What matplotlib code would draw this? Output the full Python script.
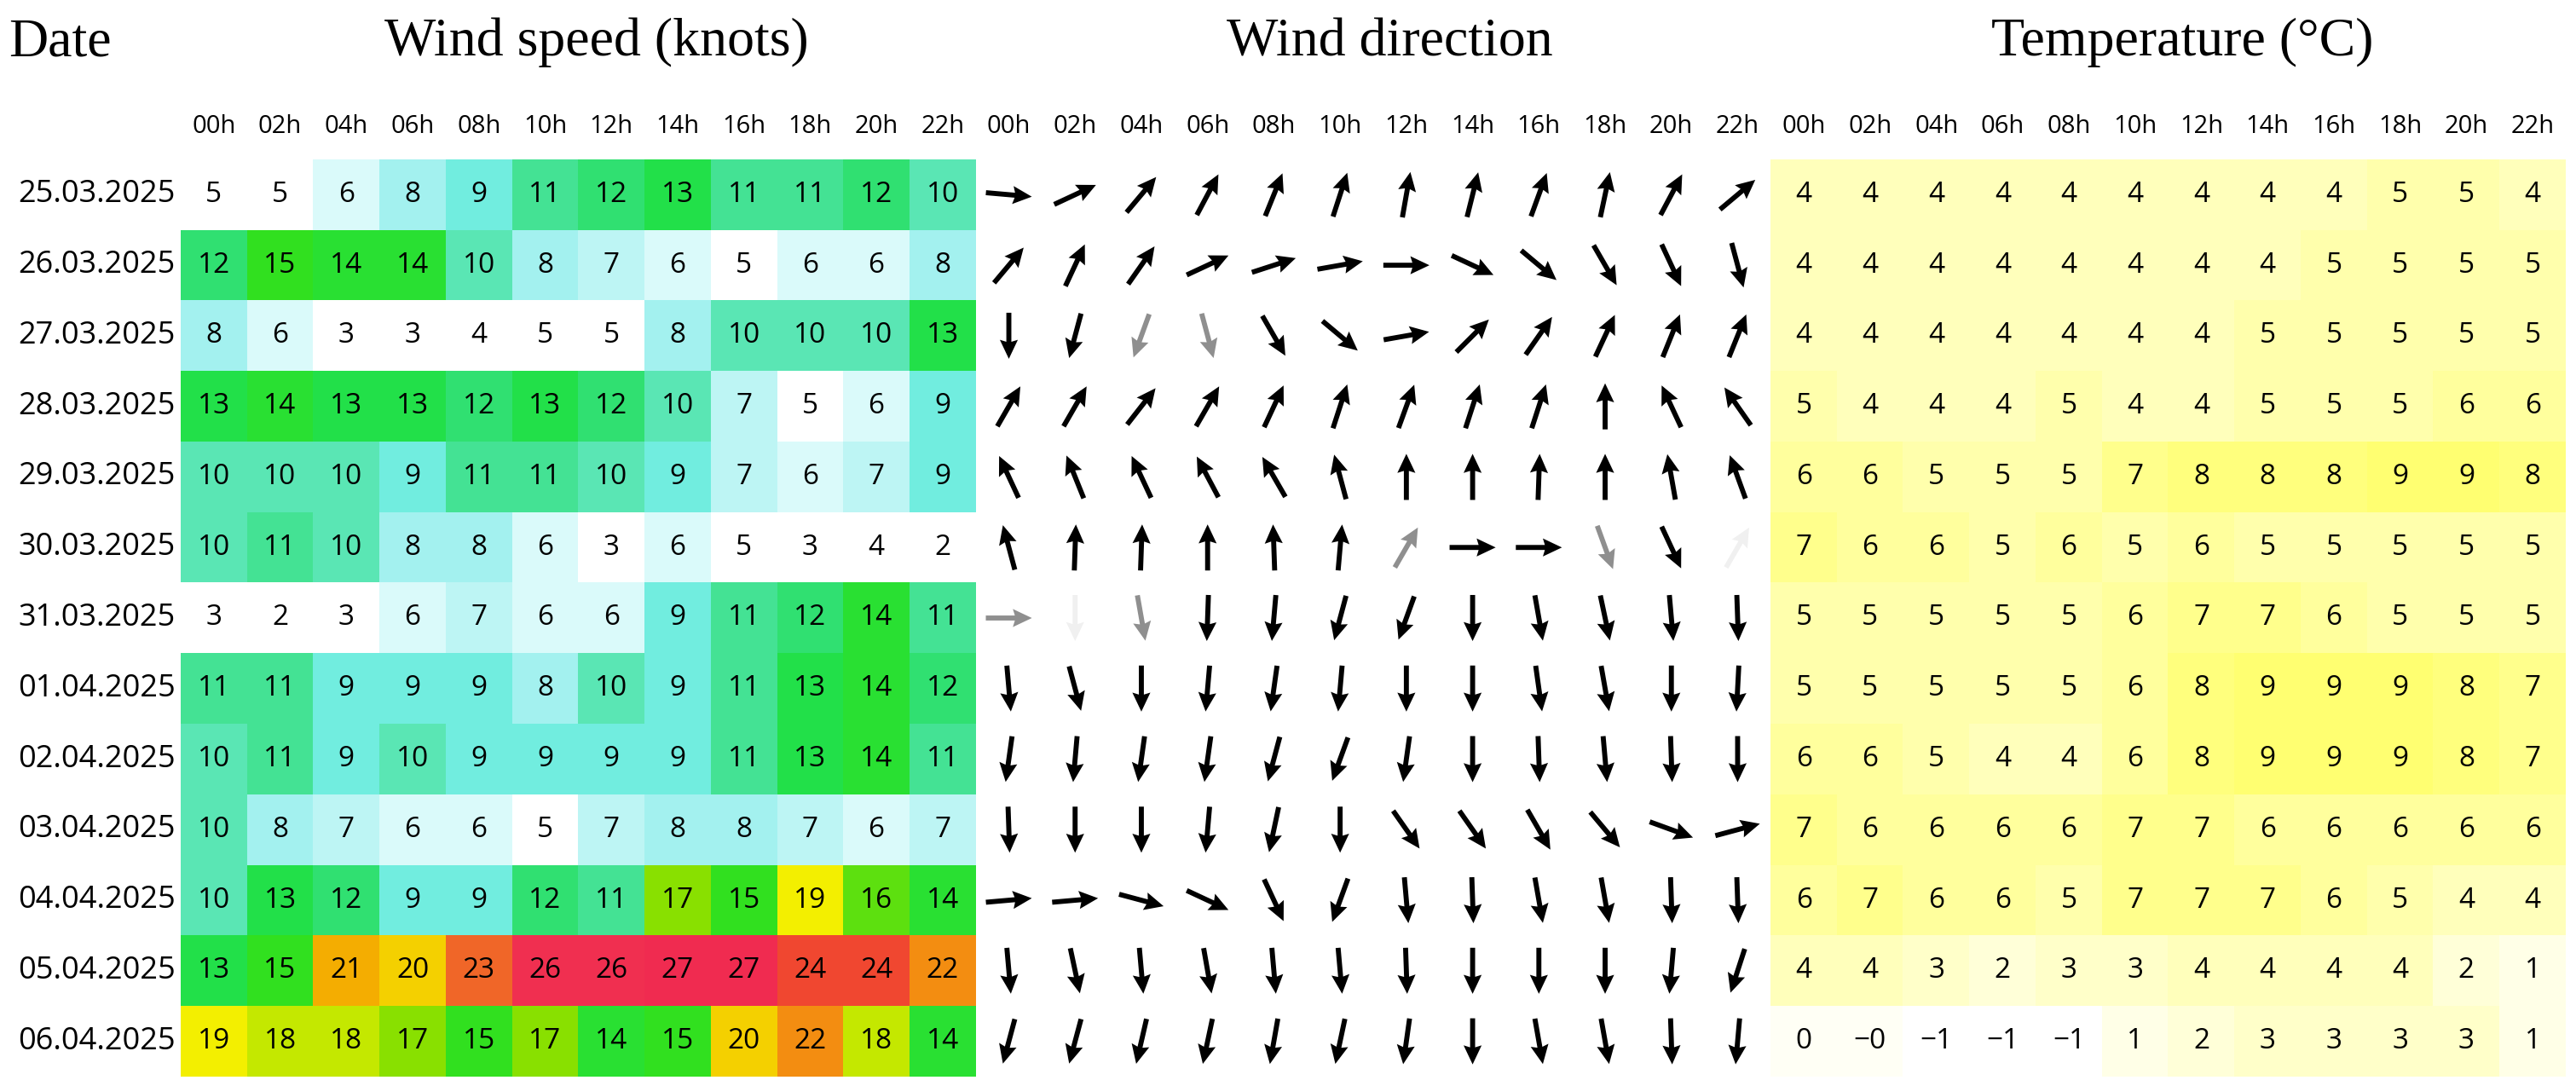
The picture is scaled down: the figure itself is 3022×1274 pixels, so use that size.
import numpy as np
import matplotlib
matplotlib.use("Agg")
import matplotlib.pyplot as plt
from matplotlib.colors import LinearSegmentedColormap

dates = ["25.03.2025","26.03.2025","27.03.2025","28.03.2025","29.03.2025","30.03.2025",
         "31.03.2025","01.04.2025","02.04.2025","03.04.2025","04.04.2025","05.04.2025","06.04.2025"]
hours = ["00h","02h","04h","06h","08h","10h","12h","14h","16h","18h","20h","22h"]

wind_speed = [
    [5,5,6,8,9,11,12,13,11,11,12,10],
    [12,15,14,14,10,8,7,6,5,6,6,8],
    [8,6,3,3,4,5,5,8,10,10,10,13],
    [13,14,13,13,12,13,12,10,7,5,6,9],
    [10,10,10,9,11,11,10,9,7,6,7,9],
    [10,11,10,8,8,6,3,6,5,3,4,2],
    [3,2,3,6,7,6,6,9,11,12,14,11],
    [11,11,9,9,9,8,10,9,11,13,14,12],
    [10,11,9,10,9,9,9,9,11,13,14,11],
    [10,8,7,6,6,5,7,8,8,7,6,7],
    [10,13,12,9,9,12,11,17,15,19,16,14],
    [13,15,21,20,23,26,26,27,27,24,24,22],
    [19,18,18,17,15,17,14,15,20,22,18,14],
]

# direction the arrow points, degrees counter-clockwise from east
wind_dir = [
    [355,25,50,62,68,72,80,76,70,78,62,40],
    [50,65,55,25,18,10,0,-25,-40,-60,-65,-75],
    [270,255,250,285,300,320,10,45,55,65,68,68],
    [60,60,52,60,65,72,70,72,72,90,115,125],
    [115,112,115,118,120,105,90,90,88,90,100,110],
    [105,88,88,90,92,85,60,0,0,290,295,60],
    [0,270,280,268,265,255,250,270,280,282,275,272],
    [275,285,270,265,262,265,270,270,278,280,270,267],
    [262,265,262,262,255,250,262,270,272,275,272,270],
    [272,270,270,265,258,270,305,305,300,310,340,15],
    [5,5,345,335,295,250,275,272,280,280,272,272],
    [275,282,275,280,275,275,272,270,270,270,265,252],
    [255,255,257,258,260,258,262,270,280,280,272,265],
]

temperature = [
    [4,4,4,4,4,4,4,4,4,5,5,4],
    [4,4,4,4,4,4,4,4,5,5,5,5],
    [4,4,4,4,4,4,4,5,5,5,5,5],
    [5,4,4,4,5,4,4,5,5,5,6,6],
    [6,6,5,5,5,7,8,8,8,9,9,8],
    [7,6,6,5,6,5,6,5,5,5,5,5],
    [5,5,5,5,5,6,7,7,6,5,5,5],
    [5,5,5,5,5,6,8,9,9,9,8,7],
    [6,6,5,4,4,6,8,9,9,9,8,7],
    [7,6,6,6,6,7,7,6,6,6,6,6],
    [6,7,6,6,5,7,7,7,6,5,4,4],
    [4,4,3,2,3,3,4,4,4,4,2,1],
    [0,-0.0,-1,-1,-1,1,2,3,3,3,3,1],
]

ws = np.array(wind_speed, float)
wd = np.array(wind_dir, float)
tp = np.array(temperature, float)
nr, nc = ws.shape

wind_cmap = LinearSegmentedColormap.from_list("wind", [
    (0/28, "#ffffff"), (5/28, "#ffffff"), (6/28, "#d8fafa"), (8/28, "#a4f2f0"),
    (9/28, "#72eee0"), (10/28, "#5ae6b4"), (11/28, "#44e294"), (12/28, "#30e070"),
    (13/28, "#22e048"), (15/28, "#30e020"), (17/28, "#88e000"), (18/28, "#c4e800"),
    (19/28, "#f4f000"), (20/28, "#f4d000"), (21/28, "#f4b000"), (22/28, "#f49010"),
    (23/28, "#f06828"), (24/28, "#f04830"), (26/28, "#f03050"), (28/28, "#f02850")])
temp_cmap = LinearSegmentedColormap.from_list("temp", [
    (0.0, "#ffffff"), (0.1, "#fffff4"), (0.4, "#ffffc4"), (0.6, "#ffffa4"),
    (0.8, "#ffff80"), (1.0, "#ffff66")])

W, H = 3022, 1274
fig = plt.figure(figsize=(W/100, H/100), dpi=100)
left, right, top, bot = 212, 3010, 187, 1263
ax = fig.add_axes([left/W, (H-bot)/H, (right-left)/W, (bot-top)/H])
ax.set_xlim(-0.5, 3*nc-0.5)
ax.set_ylim(nr-0.5, -0.5)
ax.axis("off")

ax.imshow(ws, cmap=wind_cmap, vmin=0, vmax=28, extent=(-0.5, nc-0.5, nr-0.5, -0.5),
          aspect="auto", interpolation="nearest")
ax.imshow(tp, cmap=temp_cmap, vmin=-1, vmax=10, extent=(2*nc-0.5, 3*nc-0.5, nr-0.5, -0.5),
          aspect="auto", interpolation="nearest")

sans = "Open Sans"
serif = "Liberation Serif"
for i in range(nr):
    for j in range(nc):
        ax.text(j, i, f"{int(ws[i, j])}", ha="center", va="center", fontsize=24, family=sans)
        v = tp[i, j]
        lab = "\u22120" if (v == 0 and np.signbit(v)) else (f"\u2212{int(-v)}" if v < 0 else f"{int(v)}")
        ax.text(2*nc + j, i, lab, ha="center", va="center", fontsize=24, family=sans)

# arrows
X, Y = np.meshgrid(np.arange(nc) + nc, np.arange(nr))
rad = np.deg2rad(wd)
U, V = np.cos(rad), np.sin(rad)
cols = []
for s in ws.ravel():
    if s <= 2:
        cols.append((0, 0, 0, 0.06))
    elif s == 3:
        cols.append((0.45, 0.45, 0.45, 0.8))
    else:
        cols.append((0, 0, 0, 1))
ax.quiver(X.ravel(), Y.ravel(), U.ravel(), V.ravel(), color=cols, angles="uv",
          scale_units="inches", scale=1.85, pivot="middle", width=0.0021,
          headwidth=3.6, headlength=3.8, headaxislength=3.4)

# labels
for i, d in enumerate(dates):
    ax.text(-0.58, i, d, ha="right", va="center", fontsize=26, family=sans, clip_on=False)
for k in range(3):
    for j, h in enumerate(hours):
        ax.text(k*nc + j, -0.97, h, ha="center", va="center", fontsize=21, family=sans, clip_on=False)

fig.text(10/W, 1-50/H, "Date", ha="left", va="center", fontsize=46, family=serif)
fig.text(700/W, 1-50/H, "Wind speed (knots)", ha="center", va="center", fontsize=46, family=serif)
fig.text(1630/W, 1-50/H, "Wind direction", ha="center", va="center", fontsize=46, family=serif)
fig.text(2560/W, 1-50/H, "Temperature (\u00b0C)", ha="center", va="center", fontsize=46, family=serif)

fig.savefig("out.png", dpi=100, facecolor="white")
